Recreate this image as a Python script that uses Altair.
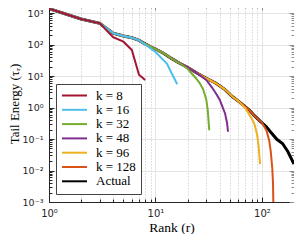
import altair as alt
import pandas as pd

# ---- data ----
actual_r = [1, 2, 3, 4, 5, 6, 7, 8, 9, 10, 12, 14, 17, 20, 24, 30, 37, 45, 53, 60,
            70, 76, 85, 96, 110, 120, 138, 156, 175, 200]
actual_v = [1380, 650, 470, 230, 186, 165, 135, 105, 85, 72, 52, 37, 25, 19, 13, 8.5,
            5.9, 3.7, 2.2, 1.6, 1.05, 0.83, 0.55, 0.37, 0.245, 0.17, 0.098, 0.072,
            0.04, 0.016]

k8_r = [1, 2, 3, 4, 5, 6, 7, 8]
k8_v = [1380, 650, 470, 170, 123, 67, 11, 7.5]

k16_split = 7
k16_r = [8, 10, 12.8, 14, 15, 16]
k16_v = [100, 58, 25, 13.4, 8.5, 5.5]

k32_split = 17
k32_r = [20, 24, 26, 28, 30, 31, 32]
k32_v = [17, 8.5, 6, 3.8, 1.8, 0.8, 0.19]

k48_split = 24
k48_r = [30, 34, 37, 40, 42, 45, 47, 48]
k48_v = [7.5, 4.3, 2.8, 1.8, 1.2, 0.65, 0.33, 0.17]

k96_split = 60
k96_r = [70, 80, 85, 90, 93, 96]
k96_v = [0.95, 0.45, 0.3, 0.14, 0.06, 0.016]

k128_split = 96
k128_r = [100, 110, 117, 121, 125, 127, 128]
k128_v = [0.33, 0.19, 0.09, 0.04, 0.012, 0.004, 0.0008]

names = ["k = 8", "k = 16", "k = 32", "k = 48", "k = 96", "k = 128", "Actual"]
colors = ["#A2142F", "#4DBEEE", "#77AC30", "#7E2F8E", "#EDB120", "#D95319", "#000000"]

x_major = [1, 10, 100]
x_minor = [2, 3, 4, 5, 6, 7, 8, 9, 20, 30, 40, 50, 60, 70, 80, 90]
y_major = [0.001, 0.01, 0.1, 1, 10, 100, 1000]
y_minor = [m * d for d in [0.001, 0.01, 0.1, 1, 10, 100] for m in range(2, 10)]


def with_prefix(split, rr, vv):
    pr = [r for r in actual_r if r <= split]
    pv = [v for r, v in zip(actual_r, actual_v) if r <= split]
    return pr + rr, pv + vv


rows = []
series = {
    "k = 8": (k8_r, k8_v),
    "k = 16": with_prefix(k16_split, k16_r, k16_v),
    "k = 32": with_prefix(k32_split, k32_r, k32_v),
    "k = 48": with_prefix(k48_split, k48_r, k48_v),
    "k = 96": with_prefix(k96_split, k96_r, k96_v),
    "k = 128": with_prefix(k128_split, k128_r, k128_v),
    "Actual": (actual_r, actual_v),
}
for name, (rr, vv) in series.items():
    for i, (r, v) in enumerate(zip(rr, vv)):
        rows.append({"s": name, "r": r, "v": v, "i": i})
df = pd.DataFrame(rows)

W, H = 245, 197
sup = "['10⁻³','10⁻²','10⁻¹','10⁰','10¹','10²','10³'][round(log(datum.value)/LN10)+3]"

xscale = alt.Scale(type="log", domain=[1, 200], nice=False)
yscale = alt.Scale(type="log", domain=[0.001, 1800], nice=False)

dark = "#262626"
light = "#8c8c8c"

x_axes = [
    alt.Axis(orient="bottom", values=x_major, labelExpr=sup, ticks=False, domain=True,
             domainColor=dark, grid=True, gridColor="#e4e4e4", labelFont="DejaVu Sans",
             labelFontSize=10, labelColor=dark, labelPadding=6, labelFlush=False,
             title="Rank (r)", titleFont="Liberation Serif", titleFontSize=13.5,
             titleFontWeight="normal", titleColor="black", titlePadding=2),
    alt.Axis(orient="bottom", values=x_minor, grid=True, gridDash=[1, 2],
             gridColor="#c4c4c4", labels=False, ticks=False, domain=False, title=""),
    alt.Axis(orient="top", offset=-H, values=x_major + x_minor, grid=False, labels=False,
             domain=False, ticks=True, tickSize=3, tickColor=dark, title=""),
    alt.Axis(orient="top", offset=-H, values=x_major, grid=False, labels=False,
             domain=False, ticks=True, tickSize=5, tickColor=dark, title=""),
    alt.Axis(orient="bottom", offset=-H, values=x_major + x_minor, grid=False, labels=False,
             domain=True, domainColor=light, ticks=True, tickSize=3, tickColor=light,
             title=""),
    alt.Axis(orient="bottom", offset=-H, values=x_major, grid=False, labels=False,
             domain=False, ticks=True, tickSize=5, tickColor=light, title=""),
    None,
]
y_axes = [
    alt.Axis(orient="left", values=y_major, labelExpr=sup, ticks=False, domain=True,
             domainColor=dark, grid=True, gridColor="#e4e4e4", labelFont="DejaVu Sans",
             labelFontSize=9.5, labelColor=dark, labelPadding=6, labelFlush=False,
             title="Tail Energy (τᵣ)", titleFont="Liberation Serif", titleFontSize=13,
             titleFontWeight="normal", titleColor="black", titlePadding=1),
    alt.Axis(orient="right", offset=-W, values=y_major + y_minor, grid=False, labels=False,
             domain=False, ticks=True, tickSize=3, tickColor=dark, title=""),
    alt.Axis(orient="right", offset=-W, values=y_major, grid=False, labels=False,
             domain=False, ticks=True, tickSize=5, tickColor=dark, title=""),
    alt.Axis(orient="left", offset=-W, values=y_major + y_minor, grid=False, labels=False,
             domain=True, domainColor=light, ticks=True, tickSize=3, tickColor=light,
             title=""),
    alt.Axis(orient="left", offset=-W, values=y_major, grid=False, labels=False,
             domain=False, ticks=True, tickSize=5, tickColor=light, title=""),
    None,
    None,
]

legend = alt.Legend(orient="none", legendX=7, legendY=79, title=None,
                    symbolType="M-2.5,0H2.5", symbolSize=100, symbolStrokeWidth=2,
                    symbolOffset=7, labelOffset=15, labelFont="Liberation Serif",
                    labelFontSize=13, labelColor="black", padding=5, rowPadding=0.3,
                    strokeColor="#444444", fillColor="white", labelLimit=200)

draw_order = ["Actual", "k = 128", "k = 96", "k = 48", "k = 32", "k = 16", "k = 8"]
layers = []
for idx, name in enumerate(draw_order):
    sw = 3 if name == "Actual" else 2
    layers.append(
        alt.Chart(df)
        .transform_filter(alt.datum.s == name)
        .mark_line(strokeWidth=sw, clip=True)
        .encode(
            x=alt.X("r:Q", scale=xscale, axis=x_axes[idx]),
            y=alt.Y("v:Q", scale=yscale, axis=y_axes[idx]),
            color=alt.Color("s:N", scale=alt.Scale(domain=names, range=colors),
                            legend=legend),
            order="i:Q",
        )
    )

chart = (
    alt.layer(*layers)
    .resolve_axis(x="independent", y="independent")
    .properties(width=W, height=H,
                autosize=alt.AutoSizeParams(type="none"),
                padding={"left": 41, "top": -3, "right": 0, "bottom": 32},
                background="white")
    .configure_view(strokeWidth=0)
)

chart.save("out.html", embed_options={"renderer": "svg", "actions": False})
